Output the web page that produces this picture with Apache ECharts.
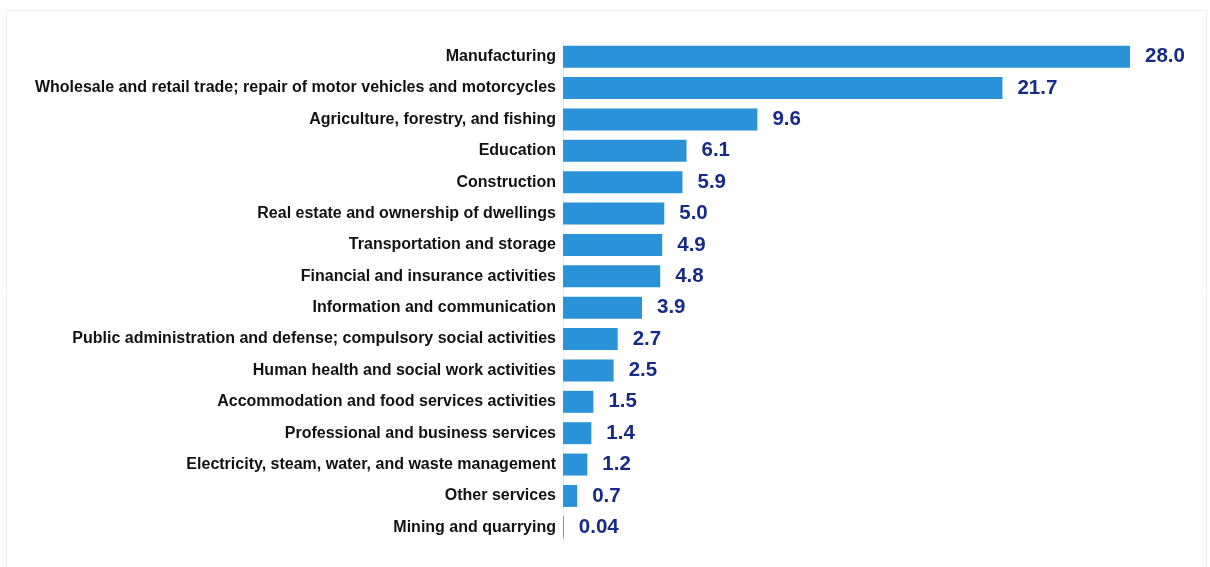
<!DOCTYPE html>
<html>
<head>
<meta charset="utf-8">
<script src="https://cdn.jsdelivr.net/npm/echarts@6/dist/echarts.min.js"></script>
<style>html,body{margin:0;padding:0;background:#fff;}#chart{width:1210px;height:567px;}</style>
</head>
<body>
<div id="chart"></div>
<script>
var categories = [
  "Manufacturing",
  "Wholesale and retail trade; repair of motor vehicles and motorcycles",
  "Agriculture, forestry, and fishing",
  "Education",
  "Construction",
  "Real estate and ownership of dwellings",
  "Transportation and storage",
  "Financial and insurance activities",
  "Information and communication",
  "Public administration and defense; compulsory social activities",
  "Human health and social work activities",
  "Accommodation and food services activities",
  "Professional and business services",
  "Electricity, steam, water, and waste management",
  "Other services",
  "Mining and quarrying"
];
var values = [28.0, 21.7, 9.6, 6.1, 5.9, 5.0, 4.9, 4.8, 3.9, 2.7, 2.5, 1.5, 1.4, 1.2, 0.7, 0.04];
var valueLabels = ["28.0","21.7","9.6","6.1","5.9","5.0","4.9","4.8","3.9","2.7","2.5","1.5","1.4","1.2","0.7","0.04"];

var chart = echarts.init(document.getElementById('chart'));
chart.setOption({
  animation: false,
  backgroundColor: '#fff',
  graphic: [{
    type: 'rect', silent: true, z: -1,
    shape: { x: 6.5, y: 10.5, width: 1200, height: 570 },
    style: { fill: 'none', stroke: '#f0f0f0', lineWidth: 1 }
  }],
  grid: { left: 563, right: 80, top: 41, bottom: 24, containLabel: false },
  xAxis: {
    type: 'value', min: 0, max: 28, show: false
  },
  yAxis: {
    type: 'category',
    data: categories,
    inverse: true,
    axisTick: { show: false },
    axisLine: { show: true, lineStyle: { color: '#ececec', width: 1 } },
    axisLabel: {
      margin: 7,
      color: '#111',
      fontFamily: 'Liberation Sans, Arial, sans-serif',
      fontWeight: 'bold',
      fontSize: 16
    }
  },
  series: [{
    type: 'bar',
    data: values,
    barCategoryGap: '30%',
    itemStyle: { color: '#2a92d8' },
    label: {
      show: true,
      position: 'right',
      distance: 15,
      color: '#172a86',
      fontFamily: 'Liberation Sans, Arial, sans-serif',
      fontWeight: 'bold',
      fontSize: 20.5,
      formatter: function (p) { return valueLabels[p.dataIndex]; }
    }
  }]
});
</script>
</body>
</html>
